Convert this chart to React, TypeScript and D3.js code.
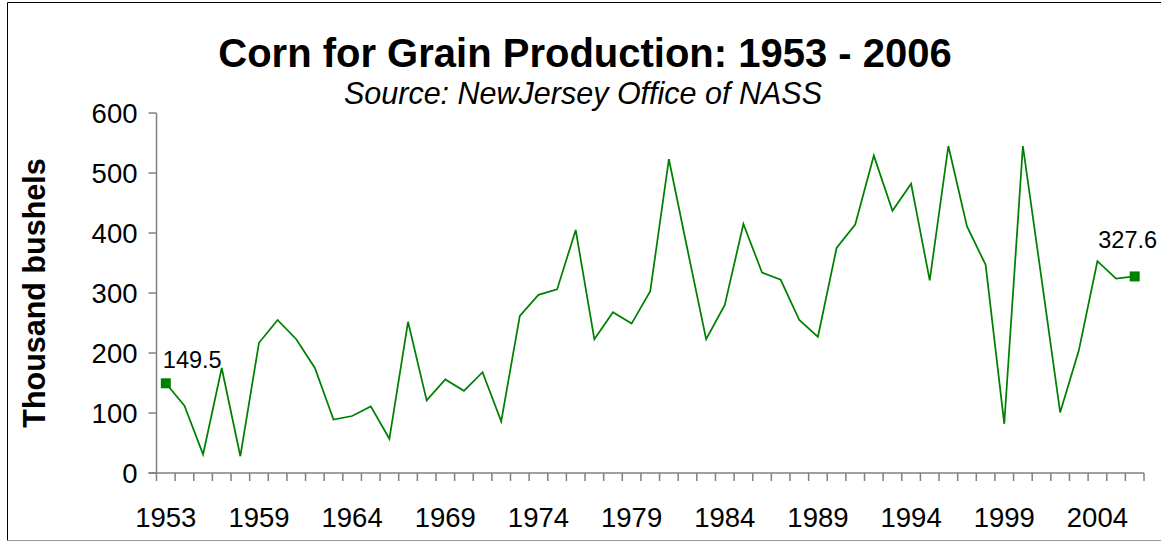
import React from "react";
import * as d3 from "d3";

const years: number[] = [
  1953, 1955, 1956, 1957, 1958, 1959, 1960, 1961, 1962, 1963,
  1964, 1965, 1966, 1967, 1968, 1969, 1970, 1971, 1972, 1973,
  1974, 1975, 1976, 1977, 1978, 1979, 1980, 1981, 1982, 1983,
  1984, 1985, 1986, 1987, 1988, 1989, 1990, 1991, 1992, 1993,
  1994, 1995, 1996, 1997, 1998, 1999, 2000, 2001, 2002, 2003,
  2004, 2005, 2006,
];

const production: number[] = [
  149.5, 112, 31, 175, 28, 217, 255, 223, 175, 89,
  95, 111, 57, 252, 121, 156, 137, 168, 86, 262,
  297, 306, 405, 223, 268, 249, 303, 523, 372, 223,
  280, 415, 334, 322, 255, 227, 375, 414, 529, 437,
  482, 321, 545, 411, 347, 82, 545, 324, 101, 204,
  353, 324, 327.6,
];

const yTicks: number[] = [0, 100, 200, 300, 400, 500, 600];

const TITLE = "Corn for Grain Production: 1953 - 2006";
const SUBTITLE = "Source: NewJersey Office of NASS";
const Y_TITLE = "Thousand bushels";

const FONT = "'Liberation Sans', Arial, sans-serif";
const GREEN = "#008000";
const AXIS = "#808080";

export default function App() {
  const W = 1161;
  const H = 542;
  const left = 156.5;
  const right = 1144;
  const top = 113;
  const bottom = 473;

  const x = d3.scaleBand<number>().domain(years).range([left, right]).paddingInner(0).paddingOuter(0);
  const y = d3.scaleLinear().domain([0, 600]).range([bottom, top]);
  const bw = x.bandwidth();
  const cx = (yr: number) => (x(yr) as number) + bw / 2;

  const data = years.map((yr, i) => ({ yr, v: production[i] }));
  const line = d3
    .line<{ yr: number; v: number }>()
    .x((d) => cx(d.yr))
    .y((d) => y(d.v));

  const boundaries = d3.range(years.length + 1).map((i) => left + i * x.step());
  const labelYears = years.filter((_, i) => i % 5 === 0);

  const first = data[0];
  const last = data[data.length - 1];
  const ms = 10;

  return (
    <svg
      width={W}
      height={H}
      style={{ position: "absolute", left: 0, top: 0, background: "#fff" }}
      fontFamily={FONT}
    >
      <rect x={0} y={0} width={W} height={H} fill="#fff" />
      {/* frame */}
      <line x1={7.5} y1={2.5} x2={W} y2={2.5} stroke="#000" strokeWidth={1} />
      <line x1={7.5} y1={2.5} x2={7.5} y2={540.5} stroke="#000" strokeWidth={1} />
      <line x1={7.5} y1={540.5} x2={W} y2={540.5} stroke="#999" strokeWidth={1} />

      {/* titles */}
      <text x={585} y={67} textAnchor="middle" fontSize={40} fontWeight="bold" fill="#000">
        {TITLE}
      </text>
      <text x={583} y={104} textAnchor="middle" fontSize={30.5} fontStyle="italic" fill="#000">
        {SUBTITLE}
      </text>
      <text
        transform={`translate(45, ${(top + bottom) / 2}) rotate(-90)`}
        textAnchor="middle"
        fontSize={30.5}
        fontWeight="bold"
        fill="#000"
      >
        {Y_TITLE}
      </text>

      {/* y axis */}
      <line x1={left} y1={top} x2={left} y2={bottom} stroke={AXIS} strokeWidth={1.5} />
      {yTicks.map((t) => (
        <g key={t}>
          <line x1={left - 8} x2={left} y1={y(t)} y2={y(t)} stroke={AXIS} strokeWidth={1.5} />
          <text x={left - 19} y={y(t)} dy="0.35em" textAnchor="end" fontSize={27.5} fill="#000">
            {t}
          </text>
        </g>
      ))}

      {/* x axis */}
      <line x1={left - 8} y1={bottom} x2={right} y2={bottom} stroke={AXIS} strokeWidth={1.5} />
      {boundaries.map((bx, i) => (
        <line key={i} x1={bx} x2={bx} y1={bottom} y2={bottom + 8} stroke={AXIS} strokeWidth={1.5} />
      ))}
      {labelYears.map((yr) => (
        <text key={yr} x={cx(yr)} y={527} textAnchor="middle" fontSize={27.5} fill="#000">
          {yr}
        </text>
      ))}

      {/* series */}
      <path d={line(data) || ""} fill="none" stroke={GREEN} strokeWidth={1.75} strokeLinejoin="miter" />
      {[first, last].map((d) => (
        <rect
          key={d.yr}
          x={cx(d.yr) - ms / 2}
          y={y(d.v) - ms / 2}
          width={ms}
          height={ms}
          fill={GREEN}
        />
      ))}
      <text x={cx(first.yr) - 3} y={y(first.v) - 15} fontSize={23.5} fill="#000">
        {first.v}
      </text>
      <text x={cx(last.yr) - 7} y={y(last.v) - 28} textAnchor="middle" fontSize={23.5} fill="#000">
        {last.v}
      </text>
    </svg>
  );
}
